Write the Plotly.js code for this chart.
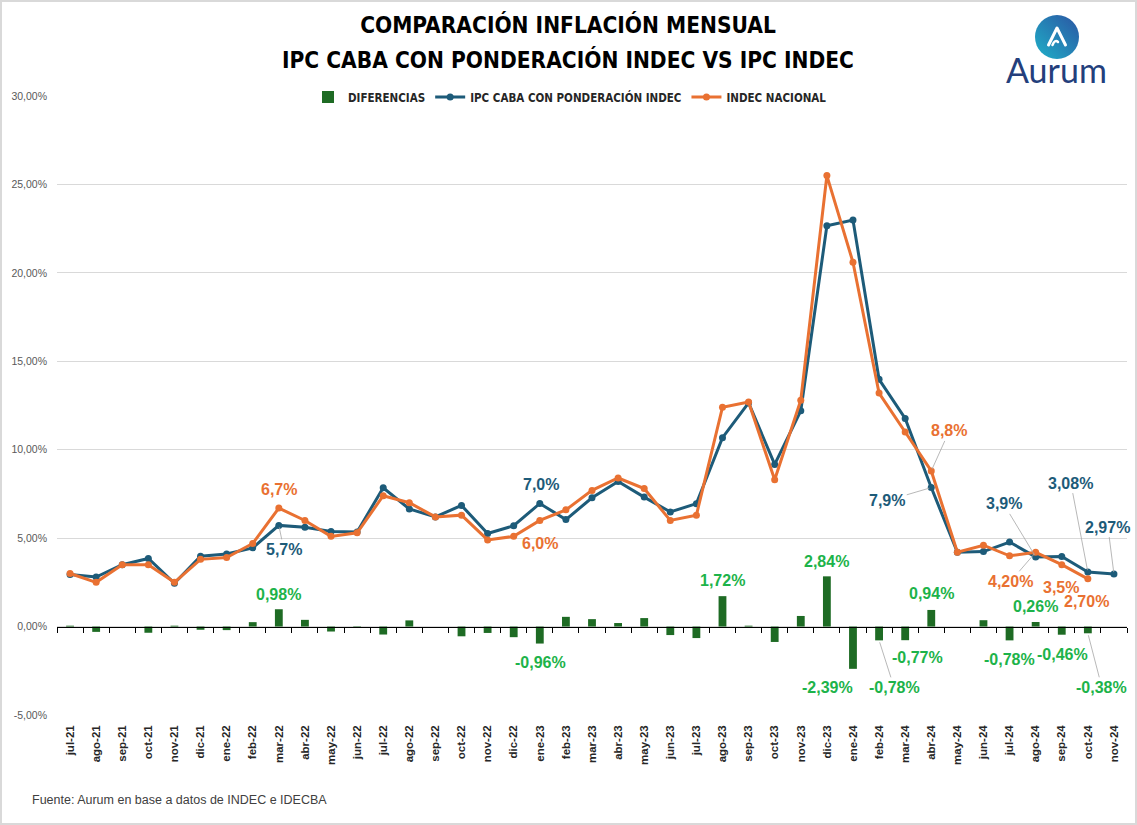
<!DOCTYPE html>
<html>
<head>
<meta charset="utf-8">
<script src="https://cdn.plot.ly/plotly-3.0.1.min.js"></script>
<style>
  html, body { margin: 0; padding: 0; background: #fff; }
  #wrap { position: relative; width: 1137px; height: 825px; }
  #chart { width: 1137px; height: 825px; }
  #frame { position: absolute; left: 0; top: 0; width: 1137px; height: 825px; box-sizing: border-box;
           border: 2px solid #d9d9d9; pointer-events: none; }
</style>
</head>
<body>
<div id="wrap"><div id="chart"></div><div id="frame"></div></div>
<script>
// ---- DATA ----
const months = ["jul-21","ago-21","sep-21","oct-21","nov-21","dic-21",
  "ene-22","feb-22","mar-22","abr-22","may-22","jun-22","jul-22","ago-22","sep-22","oct-22","nov-22","dic-22",
  "ene-23","feb-23","mar-23","abr-23","may-23","jun-23","jul-23","ago-23","sep-23","oct-23","nov-23","dic-23",
  "ene-24","feb-24","mar-24","abr-24","may-24","jun-24","jul-24","ago-24","sep-24","oct-24","nov-24"];

const indecNacional = [3.0,2.5,3.5,3.5,2.5,3.8,
  3.9,4.7,6.7,6.0,5.1,5.3,7.4,7.0,6.2,6.3,4.9,5.1,
  6.0,6.6,7.7,8.4,7.8,6.0,6.3,12.4,12.7,8.3,12.8,25.5,
  20.6,13.2,11.0,8.8,4.2,4.6,4.0,4.2,3.5,2.7,null];

const ipcCaba = [2.95,2.8,3.5,3.85,2.45,3.98,
  4.1,4.45,5.72,5.62,5.38,5.35,7.85,6.65,6.2,6.85,5.26,5.7,
  6.96,6.05,7.28,8.2,7.32,6.48,6.95,10.68,12.65,9.17,12.2,22.66,
  22.99,13.98,11.77,7.86,4.2,4.24,4.78,3.94,3.96,3.08,2.97];

const diferencias = [0.05,-0.3,0.0,-0.35,0.05,-0.18,
  -0.2,0.25,0.98,0.38,-0.28,-0.05,-0.45,0.35,0.0,-0.55,-0.36,-0.6,
  -0.96,0.55,0.42,0.2,0.48,-0.48,-0.65,1.72,0.05,-0.87,0.6,2.84,
  -2.39,-0.78,-0.77,0.94,0.0,0.36,-0.78,0.26,-0.46,-0.38,null];

const yTicks = [-5,0,5,10,15,20,25,30];

const seriesNames = { dif: "DIFERENCIAS", caba: "IPC CABA CON PONDERACIÓN INDEC", indec: "INDEC NACIONAL" };
const titleLines = ["COMPARACIÓN INFLACIÓN MENSUAL", "IPC CABA CON PONDERACIÓN INDEC VS IPC INDEC"];
const sourceText = "Fuente: Aurum en base a datos de INDEC e IDECBA";
const logoText = "Aurum";

// ---- STYLE ----
const C_BLUE = "#1d5b79";
const C_ORANGE = "#e97132";
const C_GREEN_BAR = "#1e6b24";
const C_GREEN_TXT = "#1db34a";
const COND = "'Liberation Sans Narrow', 'DejaVu Sans Condensed', 'Arial Narrow', sans-serif";
const SANS = "'Liberation Sans', Arial, sans-serif";

const seriesData = { dif: diferencias, caba: ipcCaba, indec: indecNacional };
const seriesColor = { dif: C_GREEN_TXT, caba: C_BLUE, indec: C_ORANGE };

// label specs: which point, decimals, text offset (px), leader line
const labelSpecs = [
  {m:"mar-22", s:"indec", d:1, ax:0,   ay:-19},
  {m:"mar-22", s:"caba",  d:1, ax:5,   ay:24, lead:true},
  {m:"mar-22", s:"dif",   d:2, ax:0,   ay:-15},
  {m:"ene-23", s:"caba",  d:1, ax:1,   ay:-19},
  {m:"ene-23", s:"indec", d:1, ax:0,   ay:23},
  {m:"ene-23", s:"dif",   d:2, ax:1,   ay:19},
  {m:"ago-23", s:"dif",   d:2, ax:0,   ay:-16},
  {m:"dic-23", s:"dif",   d:2, ax:0,   ay:-15},
  {m:"ene-24", s:"dif",   d:2, ax:-25, ay:19},
  {m:"feb-24", s:"dif",   d:2, ax:15,  ay:47, lead:true},
  {m:"mar-24", s:"dif",   d:2, ax:12,  ay:17},
  {m:"abr-24", s:"dif",   d:2, ax:0,   ay:-16},
  {m:"abr-24", s:"indec", d:1, ax:18,  ay:-40, lead:true},
  {m:"abr-24", s:"caba",  d:1, ax:-44, ay:13, lead:true},
  {m:"ago-24", s:"caba",  d:1, ax:-32, ay:-53, lead:true},
  {m:"ago-24", s:"indec", d:2, ax:-25, ay:29, lead:true},
  {m:"ago-24", s:"dif",   d:2, ax:0,   ay:-15},
  {m:"jul-24", s:"dif",   d:2, ax:0,   ay:19},
  {m:"sep-24", s:"indec", d:1, ax:-1,  ay:23},
  {m:"sep-24", s:"dif",   d:2, ax:1,   ay:20},
  {m:"oct-24", s:"caba",  d:2, ax:-17, ay:-89, lead:true},
  {m:"oct-24", s:"indec", d:2, ax:-1,  ay:23},
  {m:"oct-24", s:"dif",   d:2, ax:14,  ay:54, lead:true},
  {m:"nov-24", s:"caba",  d:2, ax:-6,  ay:-47, lead:true}
];

function fmt(v, d) { return v.toFixed(d).replace(".", ",") + "%"; }

const annotations = labelSpecs.map(sp => {
  const i = months.indexOf(sp.m);
  const v = seriesData[sp.s][i];
  return {
    x: sp.m, y: v, xref: sp.s === "dif" ? "x2" : "x", yref: "y",
    text: fmt(v, sp.d),
    showarrow: true, arrowhead: 0, arrowwidth: 0.8, standoff: 2,
    arrowcolor: sp.lead ? "#a6a6a6" : "rgba(0,0,0,0)",
    ax: sp.ax, ay: sp.ay,
    font: { family: SANS, size: 16, color: seriesColor[sp.s], weight: 700 }
  };
});

// second title line
annotations.push({
  xref: "paper", yref: "paper", x: (568 - 57) / 1070, y: (715 - 60) / 619,
  xanchor: "center", yanchor: "middle", showarrow: false,
  text: titleLines[1], font: { family: COND, size: 22.5, color: "#000", weight: 700 }
});
// logo text
annotations.push({
  xref: "paper", yref: "paper", x: (1056 - 57) / 1070, y: (715 - 70) / 619,
  xanchor: "center", yanchor: "middle", showarrow: false,
  text: logoText, font: { family: "Lato, 'Open Sans', sans-serif", size: 34, color: "#243f7c", weight: 400 }
});
// source
annotations.push({
  xref: "paper", yref: "paper", x: (30 - 57) / 1070, y: (715 - 800) / 619,
  xanchor: "left", yanchor: "middle", showarrow: false,
  text: sourceText, font: { family: SANS, size: 12.5, color: "#404040" }
});

const logoSvg = `<svg xmlns='http://www.w3.org/2000/svg' width='88' height='88' viewBox='0 0 88 88'>
<defs><linearGradient id='g' x1='0' y1='1' x2='1' y2='0'>
<stop offset='0' stop-color='#1fb0c8'/><stop offset='1' stop-color='#2b55a3'/></linearGradient></defs>
<circle cx='44' cy='44' r='44' fill='url(#g)'/>
<path d='M27 60 L44 26 L61 60' fill='none' stroke='#fff' stroke-width='6' stroke-linecap='round' stroke-linejoin='round'/>
<path d='M35 60 Q40 48 46 54' fill='none' stroke='#fff' stroke-width='5' stroke-linecap='round'/>
</svg>`;
const logoUri = "data:image/svg+xml;base64," + btoa(logoSvg);

const traces = [
  { type: "bar", name: seriesNames.dif, x: months, y: diferencias, xaxis: "x2", yaxis: "y",
    marker: { color: C_GREEN_BAR }, hoverinfo: "x+y" },
  { type: "scatter", mode: "lines+markers", name: seriesNames.caba, x: months, y: ipcCaba,
    line: { color: C_BLUE, width: 3 }, marker: { color: C_BLUE, size: 7 } },
  { type: "scatter", mode: "lines+markers", name: seriesNames.indec, x: months, y: indecNacional,
    line: { color: C_ORANGE, width: 3 }, marker: { color: C_ORANGE, size: 7 } }
];

const layout = {
  width: 1137, height: 825,
  margin: { l: 57, r: 10, t: 96, b: 110 },
  paper_bgcolor: "#fff", plot_bgcolor: "#fff",
  separators: ",.",
  showlegend: true,
  bargap: 0.7,
  title: {
    text: titleLines[0],
    x: (568) / 1137, xref: "container", xanchor: "center",
    y: (825 - 25) / 825, yref: "container", yanchor: "middle",
    font: { family: COND, size: 22.5, color: "#000", weight: 700 }
  },
  legend: {
    orientation: "h", x: (570 - 57) / 1070, xanchor: "center", y: (715 - 97) / 619, yanchor: "middle",
    font: { family: COND, size: 11.5, color: "#262626", weight: 700 },
    itemwidth: 30, traceorder: "normal", bgcolor: "rgba(0,0,0,0)"
  },
  xaxis: {
    type: "category", categoryorder: "array", categoryarray: months,
    range: [-0.5, months.length - 0.5],
    showgrid: false, showline: false, zeroline: false, ticks: "",
    tickangle: -90, ticklabelstandoff: 7,
    tickfont: { family: SANS, size: 11.5, color: "#262626", weight: 700 }
  },
  xaxis2: {
    type: "category", categoryorder: "array", categoryarray: months,
    range: [-0.5, months.length - 0.5],
    overlaying: "x", anchor: "free", position: 5 / 35,
    showgrid: false, zeroline: false, showline: true, linecolor: "#000", linewidth: 1,
    ticks: "outside", ticklen: 5, tickcolor: "#000", tickwidth: 1, tickson: "boundaries",
    showticklabels: false
  },
  yaxis: {
    range: [-5, 30], tickmode: "array", tickvals: yTicks, ticktext: yTicks.map(v => fmt(v, 2)),
    showgrid: true, gridcolor: "#d9d9d9", gridwidth: 1, zeroline: false, showline: false,
    ticks: "", ticklabelstandoff: 9,
    tickfont: { family: SANS, size: 10.5, color: "#595959" }
  },
  annotations: annotations,
  images: [{
    source: logoUri, xref: "paper", yref: "paper",
    x: (1035 - 57) / 1070, y: (715 - 15) / 619, sizex: 44 / 1070, sizey: 44 / 619,
    xanchor: "left", yanchor: "top", sizing: "stretch", layer: "above"
  }]
};

Plotly.newPlot("chart", traces, layout, { displayModeBar: false, staticPlot: true });
</script>
</body>
</html>
